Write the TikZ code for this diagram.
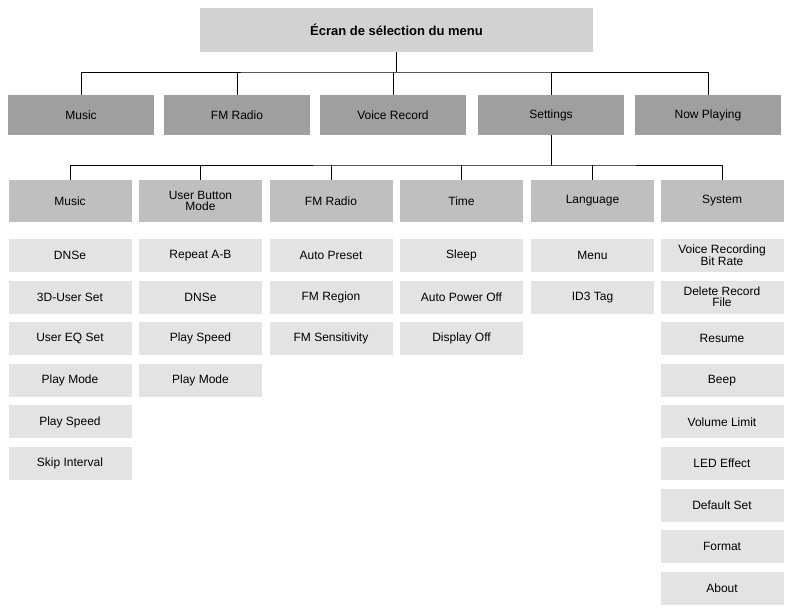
\documentclass[tikz,border=0pt]{standalone}
\usepackage{fontspec}
\setmainfont{Liberation Sans}
\begin{document}
\begin{tikzpicture}[x=1pt,y=-1pt,
 title/.style={fill=gray!35,minimum width=393pt,minimum height=44pt,inner sep=0pt,font=\fontsize{13}{14}\selectfont\bfseries},
 top/.style={fill=gray!75,minimum width=146pt,minimum height=40pt,inner sep=0pt,font=\fontsize{12}{13}\selectfont},
 head/.style={fill=gray!50,minimum width=123pt,minimum height=42pt,inner sep=0pt,align=center,font=\fontsize{12}{11}\selectfont},
 item/.style={fill=gray!22,minimum width=123pt,minimum height=33pt,inner sep=0pt,align=center,font=\fontsize{12}{11}\selectfont},
 ln/.style={line width=0.6pt}]
\useasboundingbox (0,0) rectangle (790,609);
\node[title] (t) at (396.5,30) {Écran de sélection du menu};
\node[top] (a1) at (81,115) {Music};
\node[top] (a2) at (237,115) {FM Radio};
\node[top] (a3) at (393,115) {Voice Record};
\node[top] (a4) at (551,115) {Settings};
\node[top] (a5) at (708,115) {Now Playing};
\coordinate (j) at (396.5,72);
\draw[ln] (t.south) -- (j);
\draw[ln] (a1.north) |- (j) -| (a5.north);
\foreach \n in {a2,a3,a4} \draw[ln] (\n.north) -- (\n.north |- j);
\def\hy{201}
\node[head] (h1) at (70,\hy) {Music};
\node[head] (h2) at (200.5,\hy) {User Button\\Mode};
\node[head] (h3) at (331,\hy) {FM Radio};
\node[head] (h4) at (461.5,\hy) {Time};
\node[head] (h5) at (592.5,\hy) {Language};
\node[head] (h6) at (722,\hy) {System};
\coordinate (k) at (551,165);
\draw[ln] (a4.south) -- (k);
\draw[ln] (h1.north) |- (k) -| (h6.north);
\foreach \n in {h2,h3,h4,h5} \draw[ln] (\n.north) -- (\n.north |- k);
\foreach \c/\x/\lst in {1/70/{DNSe,3D-User Set,User EQ Set,Play Mode,Play Speed,Skip Interval},
 2/200.5/{Repeat A-B,DNSe,Play Speed,Play Mode},
 3/331/{Auto Preset,FM Region,FM Sensitivity},
 4/461.5/{Sleep,Auto Power Off,Display Off},
 5/592.5/{Menu,ID3 Tag},
 6/722/{Voice Recording\\Bit Rate,Delete Record\\File,Resume,Beep,Volume Limit,LED Effect,Default Set,Format,About}}{
 \foreach \t [count=\i] in \lst {
  \node[item] (i\c-\i) at (\x,{255.5+41.6*(\i-1)}) {\t};
 }
}
\end{tikzpicture}
\end{document}
